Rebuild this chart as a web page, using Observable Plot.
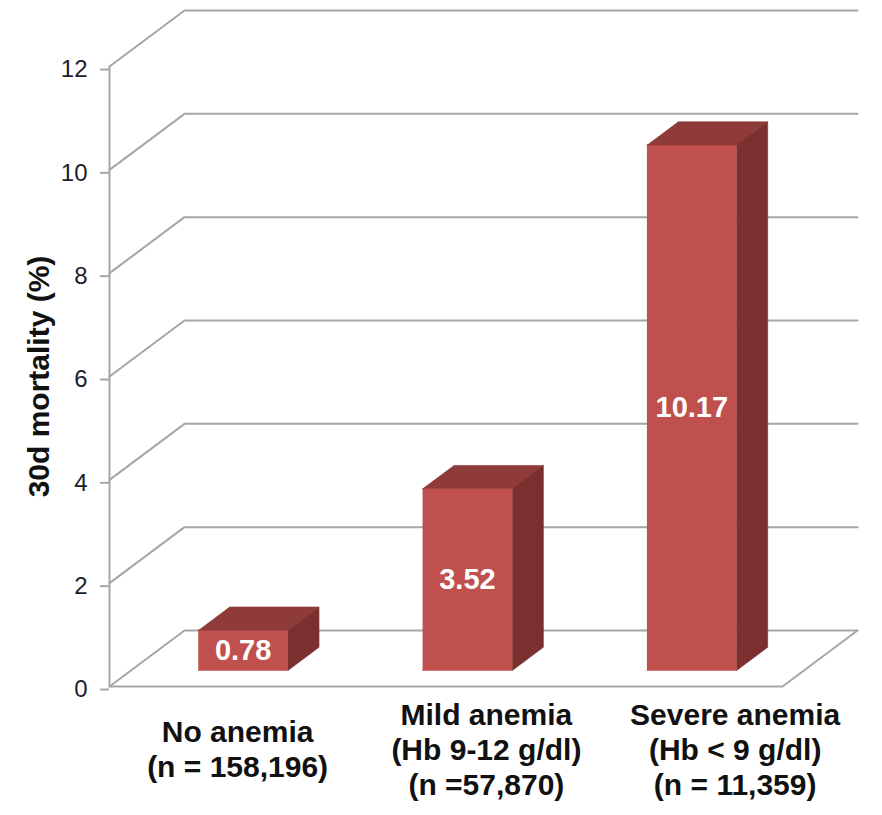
<!DOCTYPE html>
<html>
<head>
<meta charset="utf-8">
<script src="https://cdn.jsdelivr.net/npm/d3@7"></script>
<script src="https://cdn.jsdelivr.net/npm/@observablehq/plot@0.6"></script>
<style>
  html, body { margin: 0; padding: 0; background: #fff; }
  #chart { width: 882px; height: 815px; }
</style>
</head>
<body>
<div id="chart"></div>
<script>
// 30-day mortality by anemia group
const categories = [
  "No anemia\n(n = 158,196)",
  "Mild anemia\n(Hb 9-12 g/dl)\n(n =57,870)",
  "Severe anemia\n(Hb < 9 g/dl)\n(n = 11,359)"
];
const mortality = [0.78, 3.52, 10.17];
const yTicks = [0, 2, 4, 6, 8, 10, 12];
const yTitle = "30d mortality (%)";

// Pseudo-3D geometry, in scale units
const N = categories.length;
const DEPTH_X = 0.3343;   // back wall shift along x
const DEPTH_Y = 1.084;    // back wall shift along y
const BAR_W = 0.40;       // bar width within a category band
const BAR_FRONT = 0.286;  // depth of bar front face (0 = front, 1 = back wall)
const BAR_BACK = 0.70;    // depth of bar back face
const LABEL_X0 = 0.571, LABEL_STEP = 1.109; // category label placement
const yMax = yTicks[yTicks.length - 1];

const colors = {front: "#C0504D", top: "#8F3B39", side: "#7A302E"};
const gridColor = "#A6A6A6";
const font = "'Liberation Sans', Arial, sans-serif";

// Walls: diagonal from the axis to the back wall, then across it
const grid = yTicks.flatMap(t => [
  {id: t, x: 0, y: t},
  {id: t, x: DEPTH_X, y: t + DEPTH_Y},
  {id: t, x: N + DEPTH_X, y: t + DEPTH_Y}
]);
const floorEdge = [
  {x: 0, y: 0},
  {x: N, y: 0},
  {x: N + DEPTH_X, y: DEPTH_Y}
];

// Bar faces as polygons
const faces = {front: [], top: [], side: []};
mortality.forEach((v, i) => {
  const xl = i + 0.5 - BAR_W / 2, xr = i + 0.5 + BAR_W / 2;
  const fx = DEPTH_X * BAR_FRONT, fy = DEPTH_Y * BAR_FRONT;
  const bx = DEPTH_X * BAR_BACK, by = DEPTH_Y * BAR_BACK;
  const add = (face, pts) => pts.forEach(([x, y]) => faces[face].push({id: i, x, y}));
  add("front", [[xl + fx, fy], [xr + fx, fy], [xr + fx, v + fy], [xl + fx, v + fy]]);
  add("top", [[xl + fx, v + fy], [xr + fx, v + fy], [xr + bx, v + by], [xl + bx, v + by]]);
  add("side", [[xr + fx, fy], [xr + bx, by], [xr + bx, v + by], [xr + fx, v + fy]]);
});

const faceMark = face => Plot.line(faces[face], {
  x: "x", y: "y", z: "id",
  fill: colors[face], stroke: colors[face], strokeWidth: 0.6
});

const chart = Plot.plot({
  width: 882,
  height: 815,
  marginLeft: 109,
  marginRight: 25,
  marginTop: 10,
  marginBottom: 129,
  style: {fontFamily: font, fontSize: "24px", background: "#fff"},
  x: {domain: [0, N + DEPTH_X], axis: null},
  y: {domain: [0, yMax + DEPTH_Y], axis: null},
  marks: [
    Plot.line(grid, {x: "x", y: "y", z: "id", stroke: gridColor, strokeWidth: 2}),
    Plot.line(floorEdge, {x: "x", y: "y", stroke: gridColor, strokeWidth: 2}),
    Plot.ruleX([0], {y1: 0, y2: yMax, stroke: gridColor, strokeWidth: 2}),
    Plot.axisY({
      ticks: yTicks, tickSize: 9, tickPadding: 13, tickFormat: d => d,
      label: null,
      stroke: gridColor, strokeWidth: 2, fill: "#1d1d2b", fontSize: 24, dy: 3
    }),
    faceMark("front"),
    faceMark("top"),
    faceMark("side"),
    Plot.text(mortality, {
      x: (d, i) => i + 0.5 + DEPTH_X * BAR_FRONT,
      y: d => d / 2 + DEPTH_Y * BAR_FRONT,
      text: d => d.toFixed(2),
      fill: "white", fontWeight: "bold", fontSize: 29
    }),
    Plot.text(categories, {
      x: (d, i) => LABEL_X0 + i * LABEL_STEP,
      y: 0,
      dy: 62,
      text: d => d,
      lineAnchor: "middle",
      lineHeight: 1.17,
      fill: "#111", fontWeight: "bold", fontSize: 30
    }),
    Plot.text([yTitle], {
      x: 0, y: yMax / 2, dx: -70,
      text: d => d, rotate: -90,
      fill: "#111", fontWeight: "bold", fontSize: 30
    })
  ]
});

document.getElementById("chart").appendChild(chart);
</script>
</body>
</html>
